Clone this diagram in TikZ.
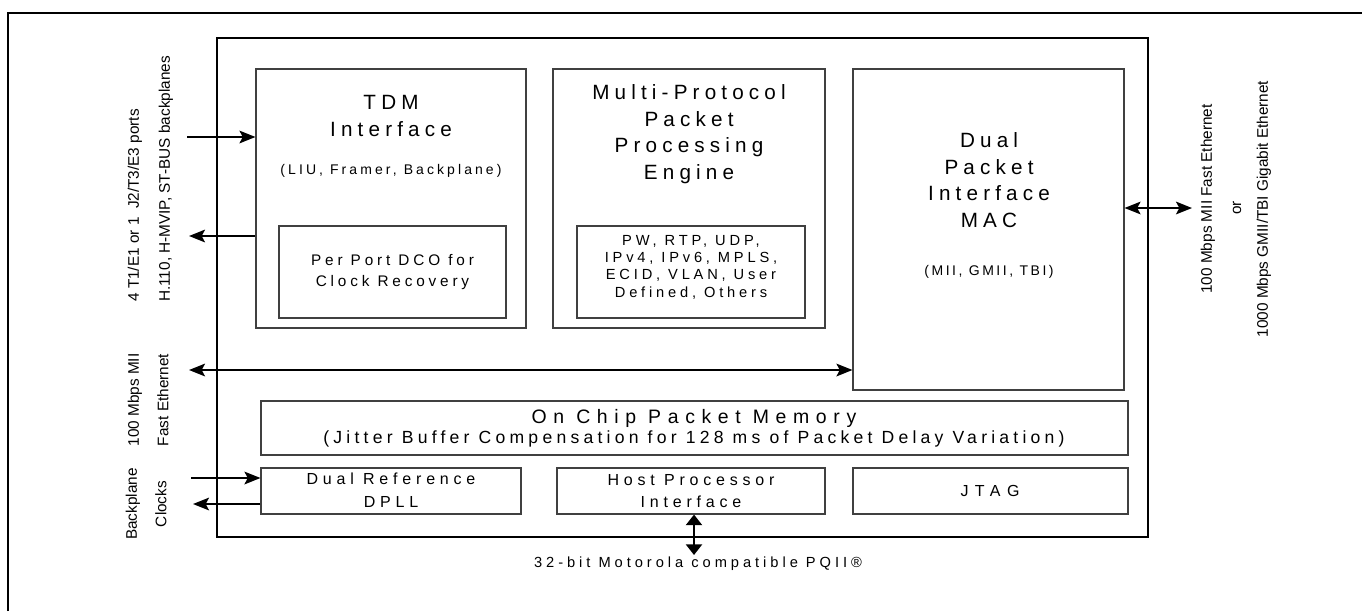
\documentclass[tikz,border=0pt]{standalone}
\usepackage{fontspec}
\setmainfont{Liberation Sans}
\usetikzlibrary{arrows.meta,fit}
\newcommand\lsp[1]{\addfontfeatures{LetterSpace=#1}}
\begin{document}
\begin{tikzpicture}[x=0.75pt,y=-0.75pt,
  frame/.style={line width=2.2pt, line join=miter},
  chip/.style={draw=black, line width=2.2pt, inner sep=0pt},
  box/.style={draw=black!75, line width=0.8pt, inner sep=0pt},
  arr/.style={line width=1.5pt, -{Stealth[length=12pt,width=9.5pt,inset=2.5pt]}},
  darr/.style={line width=1.5pt, {Stealth[length=12pt,width=9.5pt,inset=2.5pt]}-{Stealth[length=12pt,width=9.5pt,inset=2.5pt]}},
  vdarr/.style={line width=1.8pt, {Triangle[length=8pt,width=12pt]}-{Triangle[length=8pt,width=12pt]}},
  title/.style={align=center, inner sep=0pt, font=\fontsize{15.5}{20}\selectfont\lsp{25}},
  sub/.style={align=center, inner sep=0pt, font=\fontsize{10.5}{13}\selectfont\lsp{22}},
  inner/.style={align=center, inner sep=0pt, font=\fontsize{11}{13}\selectfont\lsp{26}},
  small/.style={align=center, inner sep=0pt, font=\fontsize{12}{17}\selectfont\lsp{30}},
  side/.style={inner sep=0pt, rotate=90, font=\fontsize{11.5}{14}\selectfont}
]
\useasboundingbox (0,0) rectangle (1362,611);
% outer frame (left and top)
\draw[frame] (8,611) -- (8,13) -- (1362,13);

% chip
\node[chip, fit={(217,38) (1148,537)}] (chip) {};

% blocks
\node[box, fit={(256,69) (526,328)}] (tdm) {};
\node[box, fit={(279,226) (506,318)}] (dco) {};
\node[box, fit={(553,69) (825,328)}] (mpp) {};
\node[box, fit={(577,226) (805,318)}] (proto) {};
\node[box, fit={(853,69) (1124,390)}] (mac) {};
\node[box, fit={(261,401) (1128,455)}] (mem) {};
\node[box, fit={(261,468) (521,514)}] (dpll) {};
\node[box, fit={(557,468) (825,514)}] (host) {};
\node[box, fit={(853,468) (1128,514)}] (jtag) {};

% texts
\node[title] (tdmt) at (391,116) {TDM\\Interface};
\node[sub] (tdms) at (391,171) {(LIU, Framer, Backplane)};
\node[inner, font=\fontsize{11.5}{16}\selectfont\lsp{25}] (dcot) at (dco.center) {Per Port DCO for\\Clock Recovery};
\node[title] (mppt) at (689,134) {Multi-Protocol\\Packet\\Processing\\Engine};
\node[inner] (protot) at (691,267) {PW, RTP, UDP,\\IPv4, IPv6, MPLS,\\ECID, VLAN, User\\Defined, Others};
\node[title] (mact) at (989,180) {Dual\\Packet\\Interface\\MAC};
\node[sub, font=\fontsize{10.5}{13}\selectfont\lsp{18}] (macs) at (989,272) {(MII, GMII, TBI)};
\node[align=center, inner sep=0pt] (memt) at (694,428)
  {{\fontsize{14.6}{18}\selectfont\lsp{34}On Chip Packet Memory}\\[1.5pt]
   {\fontsize{13.2}{18}\selectfont\lsp{24}(Jitter Buffer Compensation for 128 ms of Packet Delay Variation)}};
\node[small] (dpllt) at (391,490) {Dual Reference\\DPLL};
\node[small] (hostt) at (691,491) {Host Processor\\Interface};
\node[small, font=\fontsize{12}{17}\selectfont\lsp{40}] (jtagt) at (990,491) {JTAG};
\node[inner sep=0pt, font=\fontsize{11}{13}\selectfont\lsp{27}] (bus) at (698,564) {32-bit Motorola compatible PQII®};

% side labels
\node[side, anchor=west] (l1) at (135,302) {4 T1/E1 or 1\ \ J2/T3/E3 ports};
\node[side, anchor=west] (l2) at (166,302) {H.110, H-MVIP, ST-BUS backplanes};
\node[side] (l3) at (135,400) {100 Mbps MII};
\node[side] (l4) at (163,400) {Fast Ethernet};
\node[side] (l5) at (133,504) {Backplane};
\node[side] (l6) at (161,504) {Clocks};
\node[side] (r1) at (1208,199) {100 Mbps MII Fast Ethernet};
\node[side] (r2) at (1237,208) {or};
\node[side] (r3) at (1264,209) {1000 Mbps GMII/TBI Gigabit Ethernet};

% connector end points
\coordinate (tdmin) at (187,137);
\coordinate (tdmout) at (189,236);
\coordinate (feth) at (189,370);
\coordinate (clkin) at (191,478);
\coordinate (clkout) at (193,504);
\coordinate (geth) at (1192,208);
\coordinate (pq) at (694,555);

% connectors
\draw[arr] (tdmin) -- (tdmin -| tdm.west);
\draw[arr] (tdmout -| tdm.west) -- (tdmout);
\draw[darr] (feth) -- (feth -| mac.west);
\draw[arr] (clkin) -- (clkin -| dpll.west);
\draw[arr] (clkout -| dpll.west) -- (clkout);
\draw[darr] (geth -| mac.east) -- (geth);
\draw[vdarr] (pq |- host.south) -- (pq);
\end{tikzpicture}
\end{document}
